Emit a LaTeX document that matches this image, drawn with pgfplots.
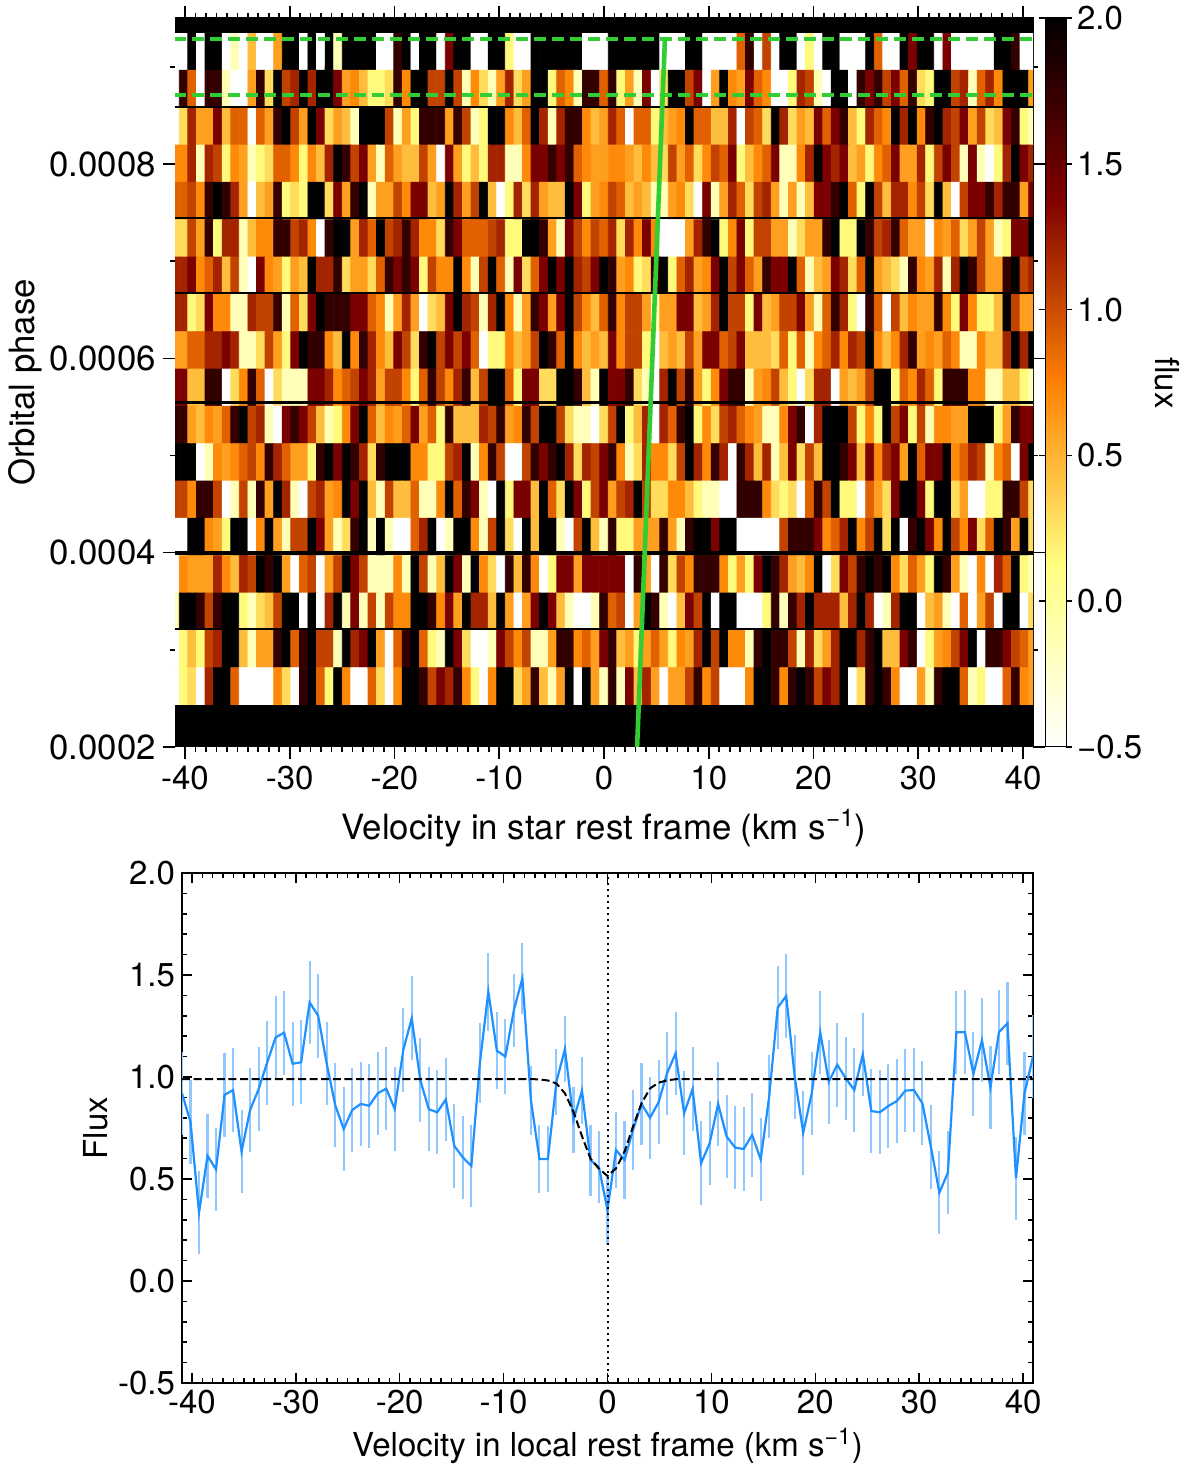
\documentclass[border=0pt]{standalone}
\usepackage{fontspec}
\setmainfont{TeX Gyre Heros}
\usepackage{pgfplots}
\usepackage{pgfplotstable}
\pgfplotsset{compat=1.18}
\definecolor{lineblue}{RGB}{30,144,255}
\definecolor{errblue}{RGB}{144,200,255}
\definecolor{limeg}{RGB}{50,205,50}
\newcommand{\fs}{\fontsize{16.5}{19}\selectfont}
\newcommand{\fl}{\fontsize{17.4}{20}\selectfont}

% local rest frame profile: x, flux, error
\pgfplotstableread{
x y e
-40.95 0.92 0.205
-40.131 0.78 0.205
-39.312 0.335 0.205
-38.493 0.614 0.205
-37.674 0.547 0.205
-36.855 0.912 0.205
-36.036 0.936 0.205
-35.217 0.634 0.205
-34.398 0.838 0.205
-33.579 0.94 0.205
-32.76 1.07 0.205
-31.941 1.194 0.205
-31.122 1.217 0.205
-30.303 1.065 0.205
-29.484 1.072 0.205
-28.665 1.366 0.205
-27.846 1.30 0.205
-27.027 1.067 0.205
-26.208 0.863 0.205
-25.389 0.745 0.205
-24.57 0.838 0.205
-23.751 0.868 0.205
-22.932 0.859 0.205
-22.113 0.92 0.205
-21.294 0.943 0.205
-20.475 0.843 0.205
-19.656 1.132 0.205
-18.837 1.288 0.205
-18.018 0.985 0.205
-17.199 0.842 0.205
-16.38 0.827 0.205
-15.561 0.89 0.205
-14.742 0.662 0.204
-13.923 0.606 0.204
-13.104 0.564 0.2
-12.285 1.067 0.196
-11.466 1.418 0.192
-10.647 1.129 0.19
-9.828 1.10 0.185
-9.009 1.328 0.179
-8.19 1.484 0.173
-7.371 0.887 0.169
-6.552 0.598 0.165
-5.733 0.598 0.163
-4.914 0.977 0.162
-4.095 1.137 0.162
-3.276 0.789 0.163
-2.457 0.933 0.164
-1.638 0.593 0.174
-0.819 0.557 0.177
0 0.348 0.17
0.819 0.642 0.188
1.638 0.593 0.193
2.457 0.74 0.196
3.276 0.868 0.199
4.095 0.80 0.201
4.914 0.876 0.205
5.733 1.018 0.205
6.552 1.116 0.205
7.371 0.822 0.205
8.19 0.941 0.205
9.009 0.577 0.205
9.828 0.675 0.205
10.647 0.868 0.205
11.466 0.708 0.205
12.285 0.654 0.205
13.104 0.647 0.205
13.923 0.716 0.205
14.742 0.596 0.205
15.561 0.904 0.205
16.38 1.34 0.205
17.199 1.397 0.205
18.018 1.0 0.205
18.837 0.727 0.205
19.656 0.92 0.205
20.475 1.219 0.205
21.294 0.977 0.205
22.113 1.06 0.205
22.932 0.993 0.205
23.751 0.936 0.205
24.57 1.111 0.205
25.389 0.833 0.205
26.208 0.827 0.205
27.027 0.858 0.205
27.846 0.882 0.205
28.665 0.933 0.205
29.484 0.936 0.205
30.303 0.871 0.205
31.122 0.658 0.205
31.941 0.433 0.205
32.76 0.531 0.205
33.579 1.219 0.205
34.398 1.22 0.205
35.217 1.015 0.205
36.036 1.181 0.205
36.855 0.949 0.205
37.674 1.22 0.205
38.493 1.263 0.205
39.312 0.503 0.205
40.131 0.92 0.205
40.95 1.10 0.205
}\profile

\begin{document}
\begin{tikzpicture}
\path[use as bounding box] (0,0) rectangle (598pt,739pt);
\begin{axis}[
    at={(87.5pt,365.5pt)}, anchor=south west,
    scale only axis, width=429pt, height=364.5pt,
    xmin=-40.95, xmax=40.95,
    ymin=0.0002, ymax=0.0009504,
    xtick={-40,-30,...,40},
    minor x tick num=9,
    ytick={0.0002,0.0004,0.0006,0.0008},
    minor ytick={0.0003,0.0005,0.0007,0.0009},
    scaled y ticks=false,
    /pgf/number format/assume math mode=true,
    yticklabel style={font=\fl,/pgf/number format/.cd,fixed,fixed zerofill,precision=4},
    tick align=outside,
    major tick length=6pt, minor tick length=2.5pt,
    tick style={black,line width=0.8pt},
    axis line style={line width=0.5pt},
    tick label style={font=\fs},
    label style={font=\fl},
    xlabel={Velocity in star rest frame (km s\textsuperscript{−1})},
    ylabel={Orbital phase},
    xlabel style={yshift=-3pt},
    ylabel style={yshift=-3pt},
    point meta min=-0.5, point meta max=2,
    colormap={heatr}{rgb255=(255,255,255) rgb255=(255,255,128) rgb255=(255,128,0) rgb255=(128,0,0) rgb255=(0,0,0)},
    colorbar,
    colorbar style={
        at={(1.014,1)}, anchor=north west,
        width=10.5pt,
        ytick={-0.5,0,0.5,1,1.5,2},
        yticklabels={−0.5,0.0,0.5,1.0,1.5,2.0},
        tick align=outside,
        major tick length=3pt,
        yticklabel style={font=\fs,xshift=-1pt},
        axis line style={line width=0.5pt},
    },
]
% time series of the flux, one source line per exposure, top exposure first
\addplot[matrix plot*, mesh/cols=101, point meta=explicit] table[row sep=\\, header=false,
    x expr={0.819*(mod(\coordindex,101)-50)},
    y expr={0.000915700-0.00003843*int(\coordindex/101)},
    meta index=0] {
-0.5\\-0.5\\2\\-0.5\\2\\2\\-0.5\\-0.15\\-0.5\\0.45\\-0.5\\-0.5\\0.6\\2\\2\\-0.5\\2\\-0.5\\2\\-0.15\\2\\2\\2\\2\\-0.5\\-0.5\\1.75\\2\\-0.5\\2\\2\\-0.5\\1.4\\2\\2\\-0.5\\-0.5\\2\\2\\0.15\\-0.5\\-0.5\\2\\2\\2\\2\\2\\2\\-0.5\\-0.5\\-0.5\\2\\2\\2\\2\\2\\2\\-0.5\\-0.5\\-0.5\\2\\2\\-0.5\\-0.5\\-0.5\\-0.5\\0.9\\1.75\\-0.5\\1.05\\-0.5\\2\\2\\-0.5\\0.15\\-0.5\\2\\2\\-0.5\\-0.5\\-0.5\\2\\0.9\\-0.5\\-0.5\\2\\1.4\\2\\2\\-0.5\\1.4\\-0.5\\-0.5\\-0.5\\-0.5\\-0.5\\2\\2\\1.75\\-0.5\\-0.5\\
-0.5\\1.75\\0.9\\-0.5\\1.75\\1.75\\-0.15\\-0.5\\-0.5\\0.6\\1.75\\0.3\\2\\1.05\\1.2\\2\\1.2\\2\\2\\1.4\\0.6\\0.7\\0.45\\0.15\\0.15\\0.3\\1.75\\0.7\\2\\2\\1.05\\1.05\\2\\1.05\\-0.15\\0.7\\0.3\\-0.15\\0.6\\1.2\\0.3\\0.6\\2\\2\\0.15\\0.9\\0.7\\-0.15\\1.75\\1.75\\0.9\\1.75\\0.15\\0.6\\-0.15\\1.4\\-0.5\\0.3\\2\\2\\1.05\\1.4\\-0.5\\0.6\\2\\0.7\\0.6\\1.4\\0.9\\0.7\\-0.5\\-0.5\\0.15\\1.2\\1.05\\-0.15\\-0.5\\2\\2\\-0.5\\1.75\\1.4\\1.75\\1.05\\1.4\\0.9\\1.75\\0.3\\0.15\\2\\2\\1.05\\1.2\\-0.15\\0.9\\1.2\\0.7\\2\\2\\2\\0.6\\
-0.5\\0.3\\1.2\\0.6\\0.6\\1.4\\0.45\\0.9\\0.9\\-0.5\\0.9\\0.6\\1.75\\2\\1.05\\0.6\\2\\1.4\\0.3\\0.6\\0.45\\-0.15\\2\\2\\2\\1.05\\-0.15\\0.6\\0.15\\1.75\\1.75\\1.75\\0.6\\1.75\\1.05\\-0.15\\0.15\\2\\2\\0.7\\0.45\\0.9\\2\\1.2\\-0.15\\1.2\\1.75\\1.75\\0.7\\0.45\\0.6\\1.2\\0.9\\-0.5\\0.9\\0.9\\0.15\\0.45\\0.6\\0.7\\2\\0.9\\0.9\\0.45\\0.45\\1.2\\-0.5\\1.05\\0.9\\0.3\\2\\1.2\\0.3\\0.6\\0.45\\1.4\\0.9\\1.4\\1.75\\0.45\\0.15\\1.2\\0.9\\0.7\\2\\1.2\\2\\0.7\\1.75\\2\\1.2\\1.05\\1.4\\0.6\\1.05\\0.3\\0.45\\1.4\\1.75\\0.15\\-0.15\\
0.7\\0.7\\1.2\\-0.15\\1.2\\1.05\\0.15\\0.7\\0.6\\-0.15\\0.15\\0.3\\0.9\\0.9\\0.7\\0.15\\0.7\\0.45\\1.2\\2\\1.75\\1.05\\1.4\\0.6\\-0.15\\0.9\\0.6\\0.45\\0.45\\1.05\\0.6\\-0.5\\1.4\\0.6\\0.15\\0.45\\0.15\\1.2\\1.2\\-0.15\\-0.15\\0.7\\1.4\\1.4\\1.75\\1.4\\1.75\\0.9\\0.7\\0.6\\0.6\\0.7\\0.7\\0.6\\0.45\\0.7\\0.45\\0.3\\1.05\\0.6\\0.9\\0.3\\0.7\\1.05\\0.9\\1.4\\0.15\\0.45\\0.7\\0.9\\1.4\\-0.15\\-0.15\\0.7\\1.2\\2\\1.4\\1.2\\1.4\\0.45\\0.6\\0.15\\0.7\\0.9\\1.4\\0.6\\0.6\\1.2\\0.15\\1.05\\1.4\\1.05\\-0.15\\1.4\\-0.15\\-0.5\\0.15\\1.2\\2\\1.4\\1.2\\
0.9\\0.9\\1.05\\0.7\\1.75\\2\\1.75\\1.2\\0.6\\-0.5\\0.45\\0.6\\1.75\\0.15\\0.3\\0.15\\2\\2\\0.3\\1.4\\0.6\\1.75\\2\\-0.15\\0.6\\0.6\\1.05\\0.7\\1.4\\1.4\\0.45\\0.6\\2\\1.2\\0.6\\1.05\\2\\0.45\\-0.5\\0.15\\1.2\\0.3\\1.2\\0.6\\0.45\\0.45\\2\\1.4\\0.15\\0.6\\0.7\\1.05\\0.9\\0.45\\0.6\\0.45\\-0.15\\-0.15\\0.6\\0.7\\0.3\\-0.5\\1.4\\-0.15\\0.6\\1.2\\0.9\\0.3\\1.05\\1.2\\0.6\\-0.15\\0.6\\-0.15\\0.45\\1.4\\1.4\\1.75\\2\\0.9\\0.15\\2\\1.05\\0.45\\1.2\\1.2\\0.7\\1.05\\0.3\\2\\0.45\\-0.5\\1.05\\1.4\\1.4\\1.75\\1.2\\1.75\\1.75\\0.6\\1.4\\
0.3\\0.3\\1.05\\0.6\\1.75\\0.15\\1.2\\1.2\\-0.15\\0.45\\0.7\\0.7\\1.75\\1.75\\1.05\\1.2\\0.7\\-0.5\\1.75\\2\\2\\0.6\\1.2\\0.9\\2\\1.05\\1.2\\1.75\\1.2\\0.7\\0.7\\0.3\\1.75\\1.4\\0.9\\0.9\\0.9\\1.05\\1.2\\0.15\\0.15\\2\\2\\1.75\\0.6\\-0.15\\1.4\\1.05\\0.7\\1.05\\0.9\\1.2\\0.3\\1.2\\0.7\\1.4\\0.7\\-0.5\\-0.5\\-0.5\\0.6\\1.2\\1.75\\2\\0.15\\0.7\\1.4\\0.15\\1.05\\1.05\\0.6\\0.6\\-0.15\\0.3\\0.6\\0.6\\1.75\\2\\0.15\\0.15\\2\\1.75\\1.05\\1.2\\1.75\\0.9\\0.6\\0.6\\-0.5\\0.7\\0.6\\0.9\\0.3\\0.6\\1.05\\0.6\\-0.15\\0.15\\1.4\\1.4\\2\\
1.2\\1.2\\1.4\\0.7\\0.9\\1.2\\0.45\\1.05\\-0.15\\-0.5\\1.4\\0.7\\0.6\\0.15\\0.6\\0.45\\2\\1.2\\1.2\\1.75\\0.3\\0.6\\0.6\\0.3\\0.9\\1.75\\1.4\\1.75\\1.4\\0.15\\1.05\\0.7\\0.7\\2\\0.7\\-0.15\\1.05\\2\\0.9\\-0.15\\1.4\\0.3\\0.9\\1.4\\2\\1.4\\2\\1.2\\1.05\\1.4\\2\\1.75\\0.6\\0.7\\0.15\\0.3\\1.75\\2\\0.15\\0.9\\1.2\\0.6\\0.7\\1.4\\2\\1.05\\1.4\\0.9\\0.6\\1.75\\1.4\\1.4\\2\\0.9\\-0.15\\0.45\\0.6\\1.4\\1.2\\0.3\\0.9\\2\\0.6\\0.45\\0.3\\-0.15\\1.75\\0.7\\0.6\\1.2\\-0.15\\1.2\\2\\1.75\\1.05\\0.6\\0.6\\1.75\\2\\1.05\\1.2\\
1.2\\1.2\\0.15\\0.3\\1.4\\0.7\\0.7\\-0.15\\-0.15\\1.2\\1.05\\1.05\\1.75\\-0.15\\0.9\\0.3\\1.4\\2\\1.75\\1.75\\1.75\\1.4\\1.4\\0.9\\0.7\\-0.15\\0.6\\1.2\\0.6\\-0.5\\0.3\\0.45\\1.4\\2\\1.2\\1.05\\-0.15\\1.2\\2\\0.7\\-0.15\\0.6\\1.75\\1.4\\0.6\\1.4\\2\\1.05\\0.7\\0.45\\0.9\\1.75\\0.7\\1.05\\1.05\\0.6\\-0.15\\0.6\\0.6\\1.4\\1.4\\0.45\\0.6\\1.2\\2\\1.05\\1.05\\0.15\\1.4\\0.45\\0.6\\1.05\\1.05\\1.4\\0.6\\-0.15\\0.9\\1.75\\1.2\\0.15\\-0.5\\1.75\\0.9\\-0.5\\1.05\\0.45\\0.7\\0.6\\0.6\\1.75\\0.7\\0.15\\1.4\\0.7\\0.15\\0.15\\0.45\\2\\1.05\\0.6\\0.6\\
0.6\\0.6\\0.9\\0.9\\1.2\\1.2\\1.4\\1.2\\-0.15\\-0.15\\0.3\\1.05\\0.6\\0.15\\1.4\\2\\1.75\\1.75\\0.7\\0.45\\2\\0.7\\1.75\\1.2\\0.7\\0.45\\1.4\\1.05\\0.3\\1.75\\2\\1.05\\1.4\\1.05\\1.4\\0.9\\-0.5\\0.15\\0.15\\0.7\\0.45\\0.6\\1.05\\2\\1.75\\0.9\\2\\0.7\\0.45\\0.6\\0.45\\1.4\\0.7\\1.05\\1.05\\0.15\\-0.5\\0.45\\0.6\\0.45\\1.05\\0.6\\1.4\\1.4\\0.9\\1.05\\1.4\\0.45\\0.45\\0.45\\0.3\\0.9\\0.15\\0.9\\-0.15\\0.7\\0.9\\1.2\\0.7\\1.2\\1.05\\2\\0.7\\0.45\\0.7\\1.2\\1.75\\0.6\\0.7\\0.6\\0.9\\0.7\\-0.15\\-0.15\\0.7\\0.45\\0.45\\1.2\\2\\1.2\\2\\
1.4\\1.4\\0.45\\0.45\\1.75\\1.75\\-0.5\\0.3\\0.7\\1.75\\0.9\\-0.5\\0.3\\-0.15\\-0.15\\-0.15\\1.4\\1.4\\1.2\\0.7\\0.9\\1.05\\1.4\\1.2\\0.6\\1.05\\1.05\\0.7\\0.15\\0.9\\1.75\\1.05\\0.7\\1.2\\1.75\\0.45\\1.05\\2\\2\\0.9\\0.15\\1.4\\1.4\\0.3\\0.3\\2\\2\\1.75\\0.45\\-0.15\\2\\1.4\\1.4\\1.75\\0.3\\-0.15\\-0.5\\1.2\\2\\1.05\\1.75\\0.6\\0.15\\0.7\\1.4\\1.75\\1.75\\-0.15\\0.6\\0.7\\1.05\\0.45\\0.15\\-0.5\\0.3\\1.2\\1.2\\-0.5\\0.6\\0.45\\0.6\\1.05\\2\\2\\0.15\\0.9\\0.7\\1.2\\0.9\\0.15\\1.75\\1.75\\1.75\\0.7\\0.7\\-0.15\\-0.15\\0.45\\0.45\\0.15\\-0.15\\
1.75\\1.75\\0.6\\0.45\\0.7\\0.6\\0.9\\1.75\\2\\1.05\\1.2\\-0.15\\-0.5\\1.4\\1.75\\1.4\\1.05\\0.45\\-0.15\\0.15\\0.7\\1.4\\2\\0.9\\0.45\\0.7\\0.6\\0.9\\1.4\\0.6\\0.9\\0.15\\1.75\\0.45\\0.45\\0.45\\1.2\\1.05\\1.75\\0.6\\0.7\\1.75\\1.05\\2\\2\\1.05\\0.3\\-0.15\\-0.15\\-0.5\\0.3\\1.05\\2\\0.15\\0.45\\1.2\\-0.5\\1.2\\0.9\\1.75\\2\\0.15\\0.7\\0.3\\1.05\\1.2\\0.9\\0.7\\0.6\\-0.15\\-0.15\\0.7\\1.4\\1.75\\-0.5\\1.2\\2\\2\\2\\1.05\\0.15\\0.7\\0.15\\2\\1.05\\1.4\\0.15\\1.05\\-0.15\\0.7\\0.7\\0.6\\0.6\\2\\2\\2\\0.15\\0.6\\1.75\\1.4\\1.4\\
2\\2\\2\\-0.5\\-0.15\\0.7\\0.6\\0.7\\0.9\\1.05\\0.7\\1.75\\1.2\\0.9\\0.6\\0.6\\0.15\\1.75\\2\\1.4\\2\\1.75\\1.2\\0.3\\1.75\\2\\2\\2\\0.7\\0.7\\0.15\\0.15\\1.05\\1.2\\2\\-0.15\\0.7\\1.75\\1.05\\-0.5\\-0.5\\1.05\\1.75\\1.4\\1.75\\2\\1.2\\0.3\\1.2\\1.05\\1.4\\1.75\\0.7\\-0.15\\0.3\\1.2\\0.7\\0.7\\0.3\\1.05\\2\\1.2\\0.7\\1.75\\1.2\\-0.5\\1.75\\1.2\\0.45\\1.2\\-0.15\\0.45\\1.4\\0.3\\1.05\\0.45\\2\\2\\1.75\\1.4\\0.45\\1.4\\0.7\\1.2\\1.4\\0.6\\2\\0.9\\1.4\\1.4\\2\\0.7\\0.9\\1.2\\1.05\\-0.15\\0.7\\0.9\\-0.5\\1.4\\2\\
1.05\\1.05\\0.7\\1.75\\1.75\\1.05\\-0.5\\-0.15\\1.05\\-0.15\\1.75\\0.6\\2\\1.2\\-0.15\\-0.5\\1.05\\1.2\\0.6\\0.7\\2\\1.4\\2\\0.45\\-0.15\\1.05\\0.45\\0.45\\0.9\\-0.15\\-0.15\\0.7\\2\\0.9\\1.75\\1.4\\-0.15\\-0.5\\2\\0.15\\1.4\\1.4\\0.45\\2\\0.9\\0.3\\2\\1.4\\0.15\\1.05\\1.4\\0.6\\1.05\\1.2\\2\\1.05\\0.3\\0.3\\0.7\\0.7\\0.45\\0.15\\-0.15\\-0.15\\-0.5\\-0.5\\1.75\\1.75\\1.75\\0.7\\0.3\\0.15\\0.3\\-0.5\\0.9\\1.75\\1.05\\2\\0.15\\0.15\\-0.5\\0.9\\0.6\\0.3\\1.4\\2\\2\\1.4\\0.15\\2\\2\\0.3\\0.6\\-0.5\\-0.5\\0.15\\0.15\\1.75\\1.75\\1.05\\0.3\\
-0.5\\-0.5\\2\\2\\0.7\\0.6\\0.15\\2\\2\\-0.5\\0.7\\2\\0.6\\-0.15\\1.05\\1.05\\2\\1.4\\0.6\\-0.15\\0.3\\1.75\\2\\-0.15\\2\\-0.15\\-0.5\\-0.5\\0.9\\1.2\\2\\-0.5\\-0.15\\2\\2\\0.7\\-0.15\\1.05\\2\\0.3\\-0.5\\2\\0.45\\2\\2\\-0.15\\-0.5\\1.05\\2\\0.45\\-0.15\\1.75\\0.15\\0.15\\0.6\\0.6\\0.6\\1.75\\0.6\\-0.15\\1.75\\2\\2\\1.4\\2\\2\\-0.5\\-0.5\\-0.5\\-0.5\\-0.5\\1.05\\1.75\\1.75\\1.75\\1.4\\0.7\\0.9\\1.2\\2\\0.7\\1.05\\2\\0.3\\2\\-0.5\\1.75\\2\\1.4\\0.7\\2\\1.05\\0.7\\1.4\\0.3\\0.9\\2\\1.75\\0.6\\2\\0.3\\
-0.5\\0.7\\0.6\\0.6\\0.6\\1.2\\0.7\\0.45\\1.2\\1.05\\2\\1.75\\2\\0.6\\-0.5\\0.9\\1.05\\-0.5\\0.6\\1.05\\2\\1.4\\1.05\\-0.15\\-0.15\\-0.15\\0.7\\-0.15\\2\\1.05\\-0.15\\0.45\\2\\1.4\\-0.15\\2\\0.7\\0.3\\-0.5\\1.75\\0.45\\1.75\\0.7\\-0.5\\0.15\\1.4\\1.4\\0.6\\1.4\\1.4\\1.4\\1.4\\1.4\\-0.5\\1.75\\0.6\\-0.5\\1.75\\0.3\\1.05\\0.7\\1.75\\1.75\\1.75\\0.7\\0.15\\0.6\\0.15\\1.4\\2\\1.75\\1.2\\0.6\\0.45\\0.7\\2\\-0.5\\0.3\\1.4\\1.05\\1.75\\2\\1.75\\2\\0.7\\0.3\\0.9\\0.6\\0.15\\2\\1.75\\0.6\\-0.15\\-0.5\\0.7\\-0.5\\1.2\\0.9\\2\\0.15\\-0.15\\
-0.15\\2\\2\\1.75\\1.05\\1.75\\2\\2\\0.15\\-0.15\\0.3\\0.45\\1.05\\2\\2\\-0.5\\2\\-0.5\\1.2\\2\\-0.15\\1.4\\-0.15\\1.05\\-0.15\\1.05\\0.7\\0.7\\2\\2\\1.75\\0.7\\1.4\\0.6\\2\\1.2\\1.2\\0.45\\2\\0.6\\-0.5\\0.6\\1.4\\2\\1.4\\0.45\\-0.15\\-0.5\\-0.5\\-0.15\\1.75\\0.9\\1.05\\-0.5\\0.6\\2\\1.75\\-0.15\\-0.5\\0.45\\1.4\\1.05\\2\\-0.5\\2\\2\\-0.5\\-0.5\\-0.5\\0.15\\1.75\\-0.15\\1.75\\1.2\\2\\1.2\\1.2\\1.2\\0.45\\1.2\\2\\1.2\\-0.5\\-0.15\\1.2\\2\\2\\-0.5\\0.45\\0.6\\-0.15\\-0.5\\0.9\\-0.5\\0.6\\1.05\\-0.5\\2\\2\\-0.5\\0.3\\
-0.5\\0.15\\0.45\\0.15\\1.05\\1.2\\2\\2\\0.45\\-0.15\\0.6\\0.6\\1.75\\2\\0.9\\1.75\\2\\1.05\\1.05\\-0.15\\2\\1.2\\1.4\\2\\0.6\\-0.5\\0.9\\1.75\\2\\0.9\\0.15\\-0.15\\2\\1.4\\0.3\\-0.5\\-0.5\\-0.15\\1.4\\1.05\\0.7\\1.05\\-0.15\\-0.15\\0.6\\1.75\\1.75\\0.7\\0.9\\0.6\\1.4\\1.75\\0.45\\0.6\\0.15\\0.6\\0.9\\0.6\\0.15\\0.7\\0.6\\1.2\\2\\1.05\\2\\0.7\\0.7\\-0.15\\1.75\\2\\1.75\\1.75\\1.05\\-0.15\\1.2\\0.3\\0.6\\1.2\\2\\2\\1.2\\1.75\\2\\0.45\\0.45\\1.4\\1.75\\-0.5\\0.15\\0.6\\0.7\\1.05\\1.4\\2\\-0.5\\1.75\\1.75\\1.4\\1.05\\0.9\\0.6\\
-0.5\\0.15\\0.3\\-0.5\\1.2\\2\\2\\0.9\\-0.5\\-0.5\\-0.5\\-0.5\\0.7\\0.3\\-0.5\\1.75\\2\\0.9\\0.15\\2\\0.7\\-0.5\\-0.5\\0.9\\0.3\\-0.5\\0.7\\2\\2\\1.75\\1.05\\1.4\\1.2\\1.75\\0.7\\0.15\\-0.5\\0.7\\2\\2\\0.3\\0.6\\1.75\\0.45\\-0.15\\0.6\\2\\-0.5\\2\\0.6\\-0.15\\1.75\\-0.15\\1.4\\0.45\\1.2\\0.6\\-0.5\\0.6\\0.6\\1.05\\1.75\\0.7\\1.05\\-0.5\\-0.5\\-0.5\\0.7\\2\\2\\1.75\\0.7\\1.75\\2\\1.75\\1.05\\1.4\\1.2\\2\\-0.5\\0.3\\1.75\\2\\1.75\\0.7\\-0.5\\-0.5\\0.6\\-0.15\\1.75\\2\\2\\0.9\\-0.15\\0.15\\-0.5\\-0.5\\0.9\\1.75\\0.7\\0.6\\
};
% saturated bands at both ends
\addplot[fill=black,draw=none,forget plot] coordinates {(-41,0.0002432) (41,0.0002432) (41,0.0002) (-41,0.0002)} --cycle;
\addplot[fill=black,draw=none,forget plot] coordinates {(-41,0.0009349) (41,0.0009349) (41,0.00096) (-41,0.00096)} --cycle;
% gaps between the observing blocks
\addplot[black,line width=0.6pt,forget plot] coordinates {(-41,0.0008588) (41,0.0008588)};
\addplot[black,line width=0.75pt,forget plot] coordinates {(-41,0.0007445) (41,0.0007445)};
\addplot[black,line width=0.75pt,forget plot] coordinates {(-41,0.0006673) (41,0.0006673)};
\addplot[black,line width=1.5pt,forget plot] coordinates {(-41,0.0005541) (41,0.0005541)};
\addplot[black,line width=2pt,forget plot] coordinates {(-41,0.0003997) (41,0.0003997)};
\addplot[black,line width=0.75pt,forget plot] coordinates {(-41,0.0003215) (41,0.0003215)};
% transit window and planet track
\addplot[limeg,line width=1.6pt,dash pattern=on 6pt off 3pt,forget plot] coordinates {(-41,0.0009288) (41,0.0009288)};
\addplot[limeg,line width=1.6pt,dash pattern=on 6pt off 3pt,forget plot] coordinates {(-41,0.0008711) (41,0.0008711)};
\addplot[limeg,line width=2.3pt,forget plot] coordinates {(3.16,0.0002) (5.82,0.0009298)};
\end{axis}
\node[rotate=-90,font=\fs] at (583.5pt,547.5pt) {flux};

\begin{axis}[
    at={(91pt,47.5pt)}, anchor=south west,
    scale only axis, width=425.5pt, height=255pt,
    xmin=-40.95, xmax=40.95,
    ymin=-0.5, ymax=2,
    xtick={-40,-30,...,40},
    minor x tick num=9,
    ytick={-0.5,0,0.5,1,1.5,2},
    minor y tick num=4,
    /pgf/number format/assume math mode=true,
    yticklabel style={/pgf/number format/.cd,fixed,fixed zerofill,precision=1},
    tick align=inside,
    major tick length=5pt, minor tick length=2.5pt,
    tick style={black,line width=0.75pt},
    axis line style={line width=1pt},
    tick label style={font=\fs},
    label style={font=\fs},
    xlabel={Velocity in local rest frame (km s\textsuperscript{−1})},
    ylabel={Flux},
    ylabel style={yshift=-2pt},
]
\addplot[draw=none,forget plot,
    error bars/.cd, y dir=both, y explicit, error mark=none,
    error bar style={errblue,line width=1.05pt}]
    table[x=x,y=y,y error=e] {\profile};
\addplot[lineblue,line width=1.1pt] table[x=x,y=y] {\profile};
\addplot[black,line width=1pt,dash pattern=on 4pt off 1.8pt] coordinates {
(-40.95,0.99) (-7.371,0.99) (-6.552,0.988) (-5.733,0.983) (-4.914,0.968) (-4.095,0.92) (-3.276,0.83) (-2.457,0.71) (-1.638,0.6) (-0.819,0.55) (0,0.515) (0.819,0.552) (1.638,0.634) (2.457,0.757) (3.276,0.871) (4.095,0.944) (4.914,0.972) (5.733,0.984) (6.552,0.989) (7.371,0.99) (40.95,0.99)};
\addplot[black,line width=1pt,dash pattern=on 1pt off 2pt] coordinates {(0,-0.5) (0,2)};
\end{axis}
\end{tikzpicture}
\end{document}
